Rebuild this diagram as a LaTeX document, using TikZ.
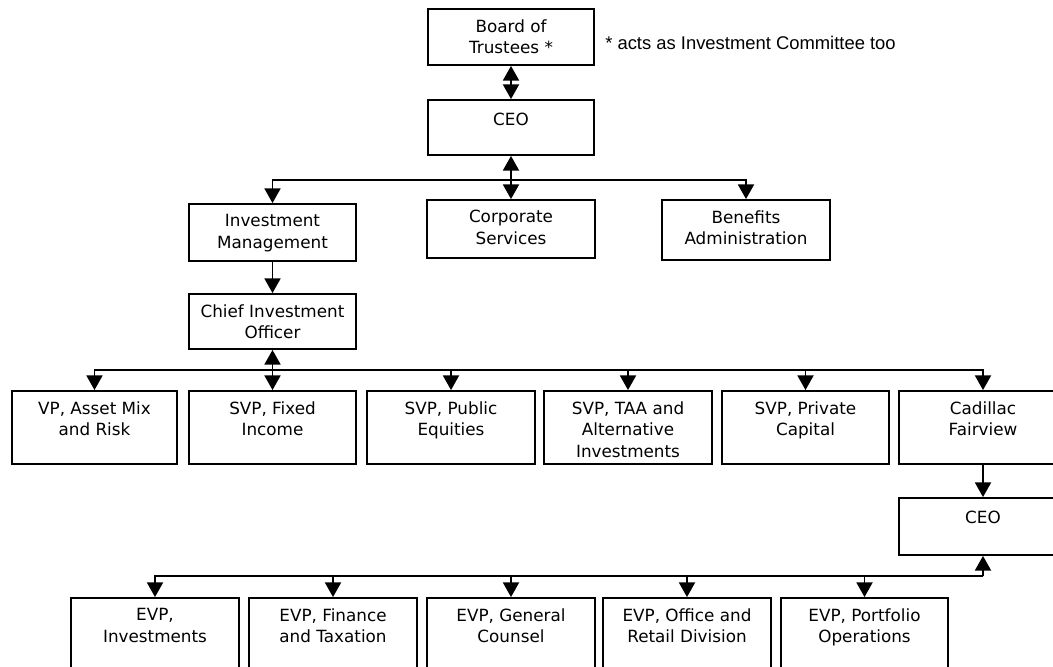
\documentclass[tikz,border=0pt]{standalone}
\usepackage{fontspec}
\setmainfont{DejaVu Sans}
\newfontfamily\notefont{Liberation Sans}
\usetikzlibrary{arrows.meta,fit}
\newcommand\orgunit[6]{%
  \node[orgbox, fit={(#2,#3) (#4,#5)}] (#1) {};
  \node[orgtxt] (#1-t) at ([yshift=-8.2pt]#1.north) {#6};
}
\begin{document}
\begin{tikzpicture}[x=0.75pt,y=-0.75pt,
  orgbox/.style={draw, line width=1.4pt, inner sep=0pt},
  orgtxt/.style={anchor=north, inner sep=0pt, align=center,
    font=\fontsize{12.6}{16.3}\selectfont, execute at begin node=\strut},
  link/.style={line width=1.4pt, -{Triangle[width=12pt,length=11pt]}},
  dlink/.style={line width=1.4pt, {Triangle[width=12pt,length=11pt]}-{Triangle[width=12pt,length=11pt]}},
  notestyle/.style={anchor=base west, inner sep=0pt, font=\notefont\fontsize{13.8}{16}\selectfont}]
\clip (0,0) rectangle (1053,667);
\fill[white] (0,0) rectangle (1053,667);

% level 1
\orgunit{board}{428}{9}{594}{65}{Board of\\Trustees *}
\node[notestyle] (note) at (605,50) {* acts as Investment Committee too};
\orgunit{ceo}{428}{100}{594}{155}{CEO}

% level 2
\orgunit{im}{189}{204}{356}{261}{Investment\\Management}
\orgunit{cs}{427}{200}{595}{258}{Corporate\\Services}
\orgunit{ba}{662}{200}{830}{260}{Benefits\\Administration}
\orgunit{cio}{189}{294}{356}{349}{Chief Investment\\Officer}

% level 3
\orgunit{vp}{12}{391}{177}{464}{VP, Asset Mix\\and Risk}
\orgunit{fi}{189}{391}{356}{464}{SVP, Fixed\\Income}
\orgunit{pe}{367}{391}{535}{464}{SVP, Public\\Equities}
\orgunit{taa}{544}{391}{712}{464}{SVP, TAA and\\Alternative\\Investments}
\orgunit{pc}{722}{391}{889}{464}{SVP, Private\\Capital}
\orgunit{cf}{899}{391}{1067}{464}{Cadillac\\Fairview}
\orgunit{ceo2}{899}{498}{1067}{555}{CEO}

% level 4
\orgunit{inv}{71}{598}{239}{690}{EVP,\\Investments}
\orgunit{fin}{249}{598}{417}{690}{EVP, Finance\\and Taxation}
\orgunit{gc}{427}{598}{595}{690}{EVP, General\\Counsel}
\orgunit{ofr}{603}{598}{771}{690}{EVP, Office and\\Retail Division}
\orgunit{po}{781}{598}{948}{690}{EVP, Portfolio\\Operations}

% connectors
\draw[dlink] (board.south) -- (ceo.north);
\coordinate (b1) at (511,180);
\draw[dlink] (ceo.south) -- (cs.north);
\draw[link] (b1) -| (im.north);
\draw[link] (b1) -| (ba.north);
\draw[link] (im.south) -- (cio.north);

\coordinate (b2) at (272.5,370);
\draw[dlink] (cio.south) -- (fi.north);
\draw[link] (b2) -| (vp.north);
\draw[link] (b2) -| (pe.north);
\draw[link] (b2) -| (taa.north);
\draw[link] (b2) -| (pc.north);
\draw[link] (b2) -| (cf.north);

\draw[link] (cf.south) -- (ceo2.north);
\coordinate (b4) at (983,576);
\draw[link] (b4) -- (ceo2.south);
\draw[link] (b4) -| (inv.north);
\draw[link] (b4) -| (fin.north);
\draw[link] (b4) -| (gc.north);
\draw[link] (b4) -| (ofr.north);
\draw[link] (b4) -| (po.north);
\end{tikzpicture}
\end{document}
